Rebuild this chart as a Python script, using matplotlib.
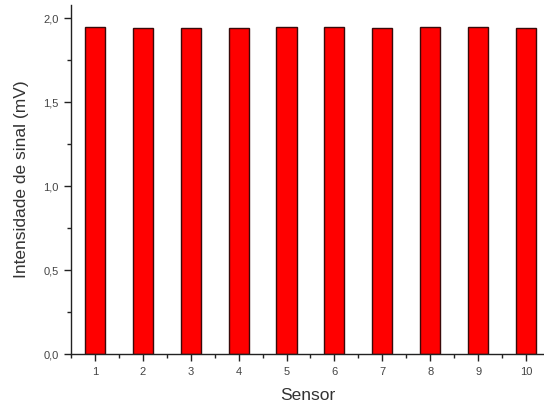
import matplotlib
matplotlib.use("Agg")
import matplotlib.pyplot as plt
from matplotlib.ticker import MultipleLocator, FuncFormatter

plt.rcParams['font.family'] = ['Liberation Sans', 'DejaVu Sans']

# data
sensors = [1, 2, 3, 4, 5, 6, 7, 8, 9, 10]
signal_mv = [1.95, 1.94, 1.94, 1.94, 1.95, 1.95, 1.94, 1.95, 1.95, 1.94]

fig = plt.figure(figsize=(5.44, 4.16), dpi=100)
ax = fig.add_axes([0.1305, 0.149, 0.8695, 0.839])

ax.bar(sensors, signal_mv, width=0.42, color='#ff0000', edgecolor='#3a0a0a', linewidth=1.0)

ax.set_xlim(0.5, 10.375)
ax.set_ylim(0, 2.08)

ax.spines['top'].set_visible(False)
ax.spines['right'].set_visible(False)
for s in ['left', 'bottom']:
    ax.spines[s].set_color('#222222')
    ax.spines[s].set_linewidth(1.0)

ax.xaxis.set_major_locator(MultipleLocator(1))
ax.xaxis.set_minor_locator(MultipleLocator(0.5))
ax.yaxis.set_major_locator(MultipleLocator(0.5))
ax.yaxis.set_minor_locator(MultipleLocator(0.25))
ax.yaxis.set_major_formatter(FuncFormatter(lambda v, p: ('%.1f' % v).replace('.', ',')))

ax.tick_params(which='major', direction='out', length=5, width=1, color='#222222',
               labelsize=8, labelcolor='#444444', pad=4)
ax.tick_params(which='minor', direction='out', length=3, width=1, color='#222222')

ax.set_xlabel('Sensor', fontsize=12.5, color='#333333', labelpad=8)
ax.set_ylabel('Intensidade de sinal (mV)', fontsize=12.5, color='#333333', labelpad=10)

fig.savefig('out.png', dpi=100)
